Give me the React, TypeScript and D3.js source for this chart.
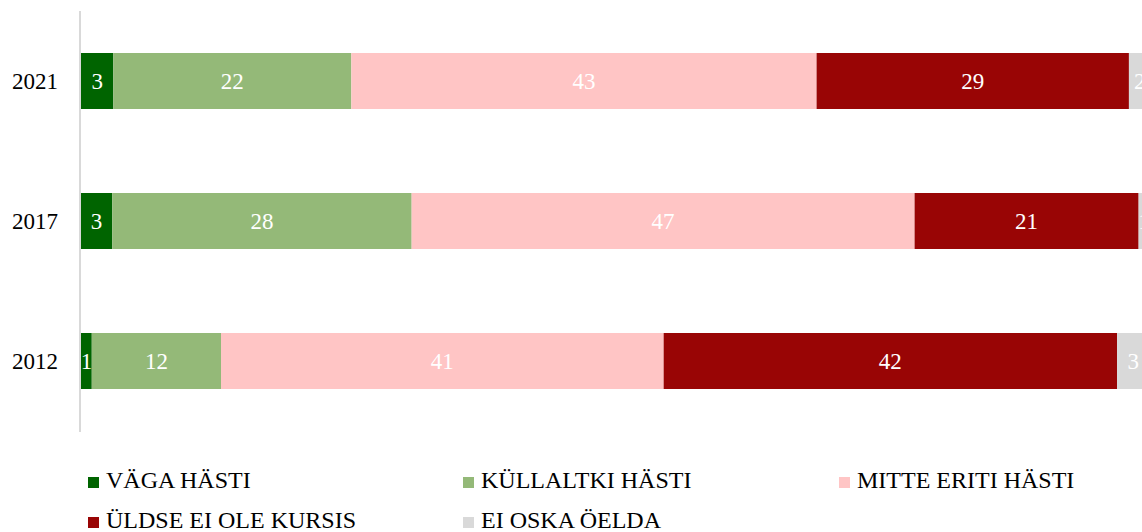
import React from "react";
import * as d3 from "d3";

// aastad ülevalt alla
const years = ["2021", "2017", "2012"];
const seriesNames = ["VÄGA HÄSTI", "KÜLLALTKI HÄSTI", "MITTE ERITI HÄSTI", "ÜLDSE EI OLE KURSIS", "EI OSKA ÖELDA"];
const seriesColors = ["#006400", "#94b978", "#ffc5c5", "#990505", "#d9d9d9"];

// protsendid iga aasta kohta (järjekord nagu seriesNames)
const values2021 = [3, 22.1, 43.2, 29, 2];
const values2017 = [2.9, 27.8, 46.7, 20.8, 1];
const values2012 = [1, 12, 41.1, 42.1, 3];
const valuesByYear = [values2021, values2017, values2012];

const W = 1142;
const H = 532;
const font = "'Liberation Serif', 'Times New Roman', serif";

export default function App() {
  const x = d3.scaleLinear().domain([0, 100]).range([81, 1158]);
  const y = d3.scaleBand().domain(years).range([11, 431]).paddingInner(0.6).paddingOuter(0.3);

  const rows = years.map((year, i) => {
    const vals = valuesByYear[i];
    const ends = d3.cumsum(vals);
    return vals.map((v, j) => ({ year, v, j, x0: ends[j] - v, x1: ends[j] }));
  });

  // legendi paigutus
  const legendCols = [88, 463, 839];
  const legendRows = [488, 528];

  return (
    <svg width={W} height={H} style={{ position: "absolute", left: 0, top: 0, background: "#fff" }}>
      <line x1={80} x2={80} y1={11} y2={432} stroke="#d9d9d9" strokeWidth={2} />
      {rows.map((segs, i) => (
        <g key={years[i]}>
          {segs.map(s => (
            <rect key={s.j} x={x(s.x0)} y={y(s.year)} width={x(s.x1) - x(s.x0)} height={y.bandwidth()}
              fill={seriesColors[s.j]} />
          ))}
          {segs.map(s => (
            <text key={"t" + s.j} x={(x(s.x0) + x(s.x1)) / 2} y={y(s.year)! + y.bandwidth() / 2}
              dy="0.35em" textAnchor="middle" fill="#fff" fontSize={23} fontFamily={font}>
              {Math.round(s.v)}
            </text>
          ))}
          <text x={58} y={y(years[i])! + y.bandwidth() / 2} dy="0.35em" textAnchor="end"
            fontSize={23} fontFamily={font} fill="#000">{years[i]}</text>
        </g>
      ))}
      {seriesNames.map((name, k) => {
        const lx = legendCols[k % 3];
        const ly = legendRows[Math.floor(k / 3)];
        return (
          <g key={name}>
            <rect x={lx} y={ly - 11} width={11} height={11} fill={seriesColors[k]} />
            <text x={lx + 18} y={ly} fontSize={24} fontFamily={font} fill="#000">{name}</text>
          </g>
        );
      })}
    </svg>
  );
}
